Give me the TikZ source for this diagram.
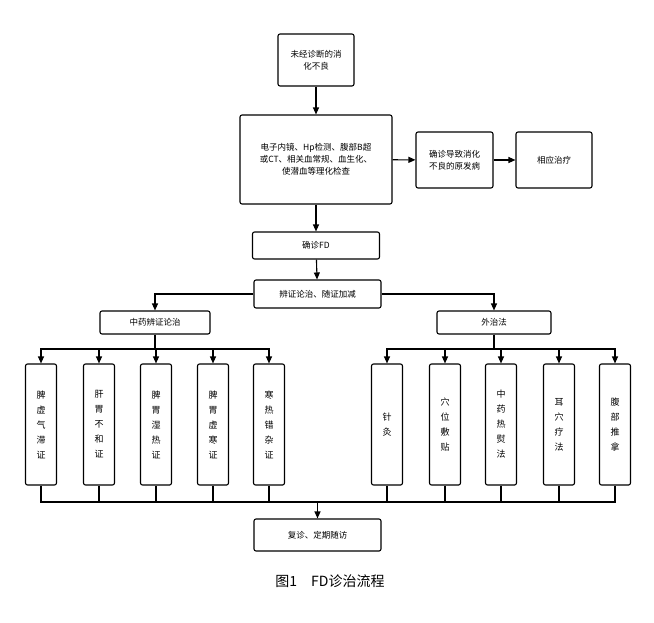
\documentclass[tikz,border=0pt]{standalone}
\usepackage{fontspec}
\newfontfamily\cjk{Noto Sans CJK SC}
\usepackage{tikz}
\usetikzlibrary{positioning}
\usetikzlibrary{arrows.meta}

\begin{document}
\begin{tikzpicture}[x=1pt,y=-1pt,
	box/.style={draw,line width=1.1pt,rounded corners=2pt,align=center,inner sep=0pt,font=\cjk\fontsize{8.5}{12}\selectfont},
	vbox/.style={box,minimum width=31pt,minimum height=121pt,font=\cjk\fontsize{9}{15}\selectfont},
	arr/.style={line width=1.1pt,-{Triangle[length=7pt,width=6pt]}},
	ln/.style={line width=1.1pt}]
	\useasboundingbox (0,0) rectangle (654,622);
	% Main column %
	\node (start) [box,minimum width=76pt,minimum height=52pt] at (316,60) {未经诊断的消\\化不良};
	\node (exam) [box,minimum width=152pt,minimum height=89pt] at (316,159.5) {电子内镜、Hp检测、腹部B超\\或CT、相关血常规、血生化、\\使潜血等理化检查};
	\node (primary) [box,minimum width=77pt,minimum height=56pt] at (454.5,160) {确诊导致消化\\不良的原发病};
	\node (treat) [box,minimum width=76pt,minimum height=56pt] at (554,160) {相应治疗};
	\node (fd) [box,minimum width=127pt,minimum height=27pt] at (316,245.5) {确诊FD};
	\node (bz) [box,minimum width=127pt,minimum height=28pt] at (317.5,294) {辨证论治、随证加减};
	\node (zy) [box,minimum width=110pt,minimum height=23pt] at (155,322.5) {中药辨证论治};
	\node (wz) [box,minimum width=114pt,minimum height=23pt] at (494,322.5) {外治法};
	\node (fz) [box,minimum width=127pt,minimum height=32pt] at (317.5,535) {复诊、定期随访};
	\draw [arr] (start) -- (exam);
	\draw [arr] (exam) -- (primary);
	\draw [arr] (primary) -- (treat);
	\draw [arr] (exam) -- (fd);
	\draw [arr] (fd) -- (bz);
	\draw [arr] (bz) -| (zy);
	\draw [arr] (bz) -| (wz);
	% Branch boxes %
	\coordinate (lsplit) at (155,349);
	\coordinate (rsplit) at (494,349);
	\coordinate (join) at (317.5,502);
	\draw [ln] (zy) -- (lsplit);
	\draw [ln] (wz) -- (rsplit);
	\foreach \x/\t [count=\i] in {41/脾\\虚\\气\\滞\\证, 99/肝\\胃\\不\\和\\证, 156/脾\\胃\\湿\\热\\证, 213/脾\\胃\\虚\\寒\\证, 269/寒\\热\\错\\杂\\证}
		{\node (l\i) [vbox] at (\x,424.5) {\t};
		\draw [arr] (lsplit) -| (l\i);
		\draw [ln] (l\i) |- (join);}
	\foreach \x/\t [count=\i] in {387/针\\灸, 445/穴\\位\\敷\\贴, 501/中\\药\\热\\熨\\法, 559/耳\\穴\\疗\\法, 615/腹\\部\\推\\拿}
		{\node (r\i) [vbox] at (\x,424.5) {\t};
		\draw [arr] (rsplit) -| (r\i);
		\draw [ln] (r\i) |- (join);}
	\draw [arr] (join) -- (fz);
	% Caption %
	\node (caption) [font=\cjk\fontsize{14}{16}\selectfont] at (330,581) {图1\quad FD诊治流程};
\end{tikzpicture}
\end{document}
